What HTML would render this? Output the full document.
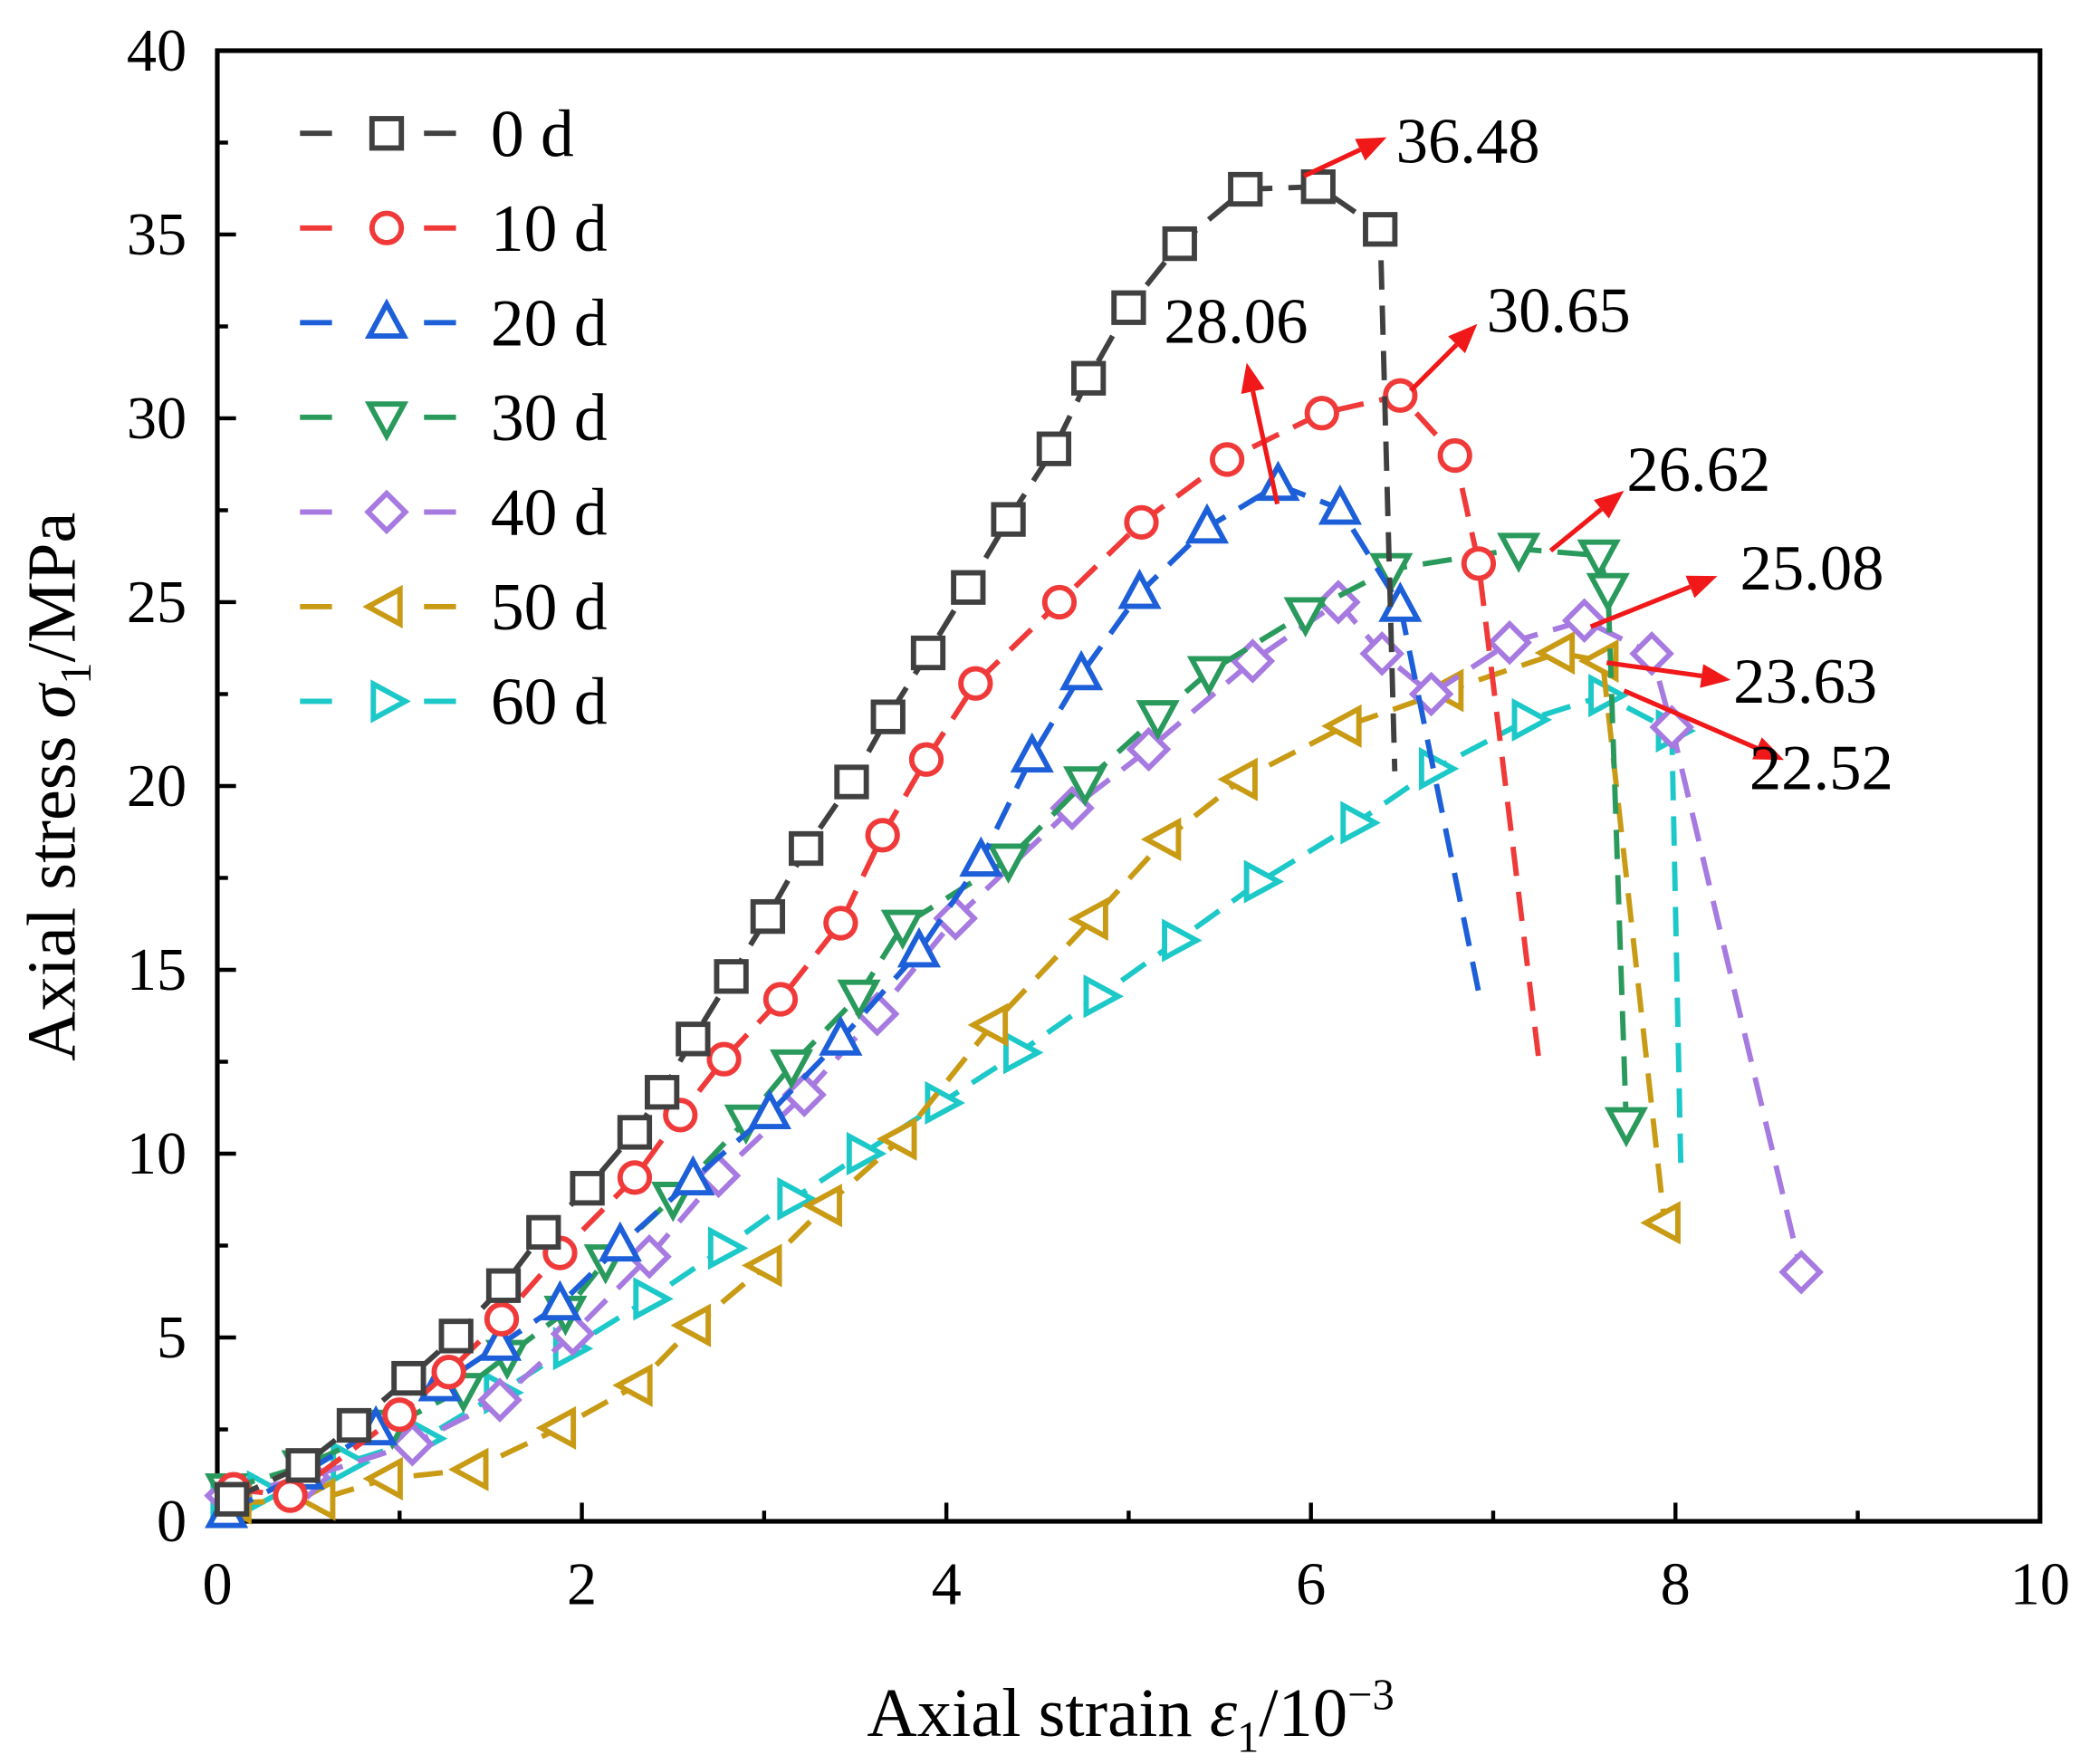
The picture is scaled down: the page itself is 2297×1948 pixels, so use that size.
<!DOCTYPE html>
<html><head><meta charset="utf-8"><style>
html,body{margin:0;padding:0;background:#fff;}
svg{display:block;font-family:"Liberation Serif",serif;}
</style></head><body>
<svg id="chart" width="2297" height="1948" viewBox="0 0 1560 1323" preserveAspectRatio="none" xmlns="http://www.w3.org/2000/svg">
<g id="plot"></g>
</svg>
<script>
const seriesNames = ["0 d","10 d","20 d","30 d","40 d","50 d","60 d"];
const seriesColors = ["#404040","#f03a3a","#1c5fd8","#2a9a5c","#a67ae0","#c99a14","#1cc8c8"];
const seriesShapes = ["square","circle","up","down","diamond","left","right"];
const x0d = [0.08,0.47,0.75,1.05,1.31,1.57,1.79,2.03,2.29,2.44,2.61,2.82,3.02,3.23,3.48,3.68,3.90,4.12,4.34,4.59,4.78,5.00,5.28,5.64,6.04,6.38,6.46];
const y0d = [0.6,1.52,2.61,3.89,5.04,6.41,7.86,9.06,10.58,11.67,13.12,14.82,16.45,18.30,20.11,21.88,23.62,25.40,27.25,29.17,31.09,33.01,34.75,36.23,36.30,35.14,20.4];
const x10d = [0.09,0.4,1.0,1.27,1.56,1.88,2.29,2.54,2.78,3.09,3.42,3.65,3.89,4.16,4.62,5.07,5.54,6.06,6.49,6.79,6.92,7.25];
const y10d = [0.87,0.7,2.9,4.06,5.5,7.3,9.35,11.05,12.57,14.2,16.27,18.66,20.72,22.79,25.0,27.17,28.88,30.14,30.62,28.99,26.05,12.57];
const x20d = [0.05,0.47,0.87,1.22,1.55,1.88,2.21,2.61,3.03,3.42,3.85,4.19,4.47,4.74,5.06,5.43,5.82,6.16,6.49,6.92];
const y20d = [0.25,1.3,2.5,3.7,4.8,5.9,7.5,9.3,11.1,13.1,15.5,17.97,20.8,23.04,25.25,27.03,28.19,27.54,24.9,14.4];
const x30d = [0.05,0.47,0.96,1.35,1.59,1.91,2.13,2.5,2.9,3.15,3.52,3.76,4.34,4.76,5.16,5.44,5.97,6.44,7.14,7.58,7.63,7.73];
const y30d = [0.87,1.5,2.6,3.6,4.5,5.7,7.1,8.8,10.9,12.4,14.3,16.2,18.0,20.1,21.9,23.1,24.7,25.9,26.45,26.27,25.36,10.83];
const x40d = [0.05,0.5,1.07,1.55,1.95,2.37,2.75,3.22,3.62,4.05,4.69,5.11,5.68,6.15,6.39,6.66,7.09,7.5,7.87,7.98,8.69];
const y40d = [0.7,1.2,2.1,3.3,5.1,7.2,9.4,11.6,13.8,16.4,19.4,21.0,23.4,25.0,23.6,22.5,23.9,24.5,23.6,21.6,6.78];
const x50d = [0.1,0.56,0.93,1.40,1.88,2.3,2.62,3.01,3.34,3.75,4.25,4.8,5.2,5.62,6.19,6.75,7.36,7.6,7.94];
const y50d = [0.5,0.6,1.16,1.41,2.54,3.7,5.33,6.96,8.59,10.4,13.5,16.38,18.55,20.18,21.63,22.6,23.62,23.4,8.12];
const x60d = [0.05,0.25,0.5,0.71,1.13,1.55,1.93,2.37,2.78,3.16,3.54,3.97,4.4,4.84,5.27,5.72,6.25,6.68,7.19,7.61,7.98,8.03];
const y60d = [0.5,0.8,1.16,1.6,2.25,3.5,4.7,6.05,7.43,8.77,10.0,11.38,12.75,14.28,15.8,17.4,19.0,20.47,21.8,22.46,21.5,9.5];
const noEndMarker = [true,true,true,false,false,false,true];
const xTicks = [0,2,4,6,8,10];
const yTicks = [0,5,10,15,20,25,30,35,40];
const peakLabels = ["36.48","30.65","28.06","26.62","25.08","23.63","22.52"];

const L=163,R=1530,T=38,B=1141;
const sx=v=>L+(v/10)*(R-L);
const sy=v=>B-(v/40)*(B-T);
const NS="http://www.w3.org/2000/svg";
const g=document.getElementById('plot');
function mk(tag,attrs,parent){const e=document.createElementNS(NS,tag);for(const k in attrs)e.setAttribute(k,attrs[k]);(parent||g).appendChild(e);return e;}

const frame=mk('rect',{x:L,y:T,width:R-L,height:B-T,fill:'none',stroke:'#000','stroke-width':3.5});


for(let v=0;v<=10;v+=1){const X=sx(v);const len=(v%2===0)?14:8;
 const t=mk('line',{x1:X,y1:B,x2:X,y2:B-len,stroke:'#000','stroke-width':3});
 
 }
for(let v=0;v<=40;v+=2.5){const Y=sy(v);const len=(v%5===0)?14:8;
 const t=mk('line',{x1:L,y1:Y,x2:L+len,y2:Y,stroke:'#000','stroke-width':3});
 
 }
xTicks.forEach(v=>{const t=mk('text',{x:sx(v),y:1203,'text-anchor':'middle','font-size':45});t.textContent=v;
 
 });
yTicks.forEach(v=>{const t=mk('text',{x:140,y:sy(v)+15,'text-anchor':'end','font-size':45});t.textContent=v;
 
 });
const xt=mk('text',{x:848,y:1302,'text-anchor':'middle','font-size':52});
xt.innerHTML='Axial strain <tspan font-style="italic">ε</tspan><tspan font-size="33" dy="12">1</tspan><tspan dy="-12">/10</tspan><tspan font-size="33" dy="-20">−3</tspan>';


const yt=mk('text',{x:0,y:0,'text-anchor':'middle','font-size':52,transform:'translate(56,590) rotate(-90)'});
yt.innerHTML='Axial stress <tspan font-style="italic">σ</tspan><tspan font-size="33" dy="12">1</tspan><tspan dy="-12">/MPa</tspan>';



function marker(shape,X,Y,color,parent){const s=12;let e;
 if(shape==='square')e=mk('rect',{x:X-s+1,y:Y-s+1,width:2*s-2,height:2*s-2},parent);
 else if(shape==='circle')e=mk('circle',{cx:X,cy:Y,r:s-1},parent);
 else{let p;
  if(shape==='up')p=[[X,Y-s-2],[X+s+1,Y+s-2],[X-s-1,Y+s-2]];
  if(shape==='down')p=[[X,Y+s+2],[X+s+1,Y-s+2],[X-s-1,Y-s+2]];
  if(shape==='left')p=[[X-s-2,Y],[X+s-2,Y-s-1],[X+s-2,Y+s+1]];
  if(shape==='right')p=[[X+s+2,Y],[X-s+2,Y-s-1],[X-s+2,Y+s+1]];
  if(shape==='diamond')p=[[X,Y-s-2],[X+s+2,Y],[X,Y+s+2],[X-s-2,Y]];
  e=mk('polygon',{points:p.map(q=>q.join(',')).join(' ')},parent);}
 e.setAttribute('fill','#fff');e.setAttribute('stroke',color);e.setAttribute('stroke-width',4);return e;}

const xs=[x0d,x10d,x20d,x30d,x40d,x50d,x60d], ys=[y0d,y10d,y20d,y30d,y40d,y50d,y60d];
const order=[6,5,4,3,2,1,0];
order.forEach(i=>{
 const sg=mk('g',{});
 
 
 const pts=xs[i].map((v,k)=>sx(v)+','+sy(ys[i][k])).join(' ');
 mk('polyline',{points:pts,fill:'none',stroke:seriesColors[i],'stroke-width':4,'stroke-dasharray':'22 12'},sg);
 const n=xs[i].length-(noEndMarker[i]?1:0);
 for(let k=0;k<n;k++){const m=marker(seriesShapes[i],sx(xs[i][k]),sy(ys[i][k]),seriesColors[i],sg);
  
  }
});

seriesNames.forEach((nm,i)=>{const Y=100+i*71;
 const lg=mk('g',{});
 
 
 mk('line',{x1:225,y1:Y,x2:262,y2:Y,stroke:seriesColors[i],'stroke-width':4,'stroke-dasharray':'24 13'},lg);
 mk('line',{x1:318,y1:Y,x2:355,y2:Y,stroke:seriesColors[i],'stroke-width':4,'stroke-dasharray':'24 13'},lg);
 marker(seriesShapes[i],290,Y,seriesColors[i],lg);
 const t=mk('text',{x:368,y:Y+17,'font-size':50},lg);t.textContent=nm;});

const labelPos=[[1047,122],[1115,249],[873,257],[1220,368],[1305,442],[1300,527],[1312,592]];
const arrowFrom=[[978,132],[1058,293],[958,378],[1163,413],[1193,470],[1205,497],[1218,518]];
const arrowTo=[[1040,103],[1108,243],[935,272],[1218,368],[1288,432],[1298,510],[1338,570]];
peakLabels.forEach((lab,i)=>{
 const ag=mk('g',{});
 
 
 const [x1,y1]=arrowFrom[i],[x2,y2]=arrowTo[i];
 const a=Math.atan2(y2-y1,x2-x1),h=22,w=9;
 const bx=x2-h*Math.cos(a),by=y2-h*Math.sin(a);
 mk('line',{x1:x1,y1:y1,x2:bx,y2:by,stroke:'#f01818','stroke-width':3.5},ag);
 mk('polygon',{points:`${x2},${y2} ${bx+w*Math.sin(a)},${by-w*Math.cos(a)} ${bx-w*Math.sin(a)},${by+w*Math.cos(a)}`,fill:'#f01818'},ag);
 const t=mk('text',{x:labelPos[i][0],y:labelPos[i][1],'font-size':48},ag);t.textContent=lab;
});
</script>
</body></html>
